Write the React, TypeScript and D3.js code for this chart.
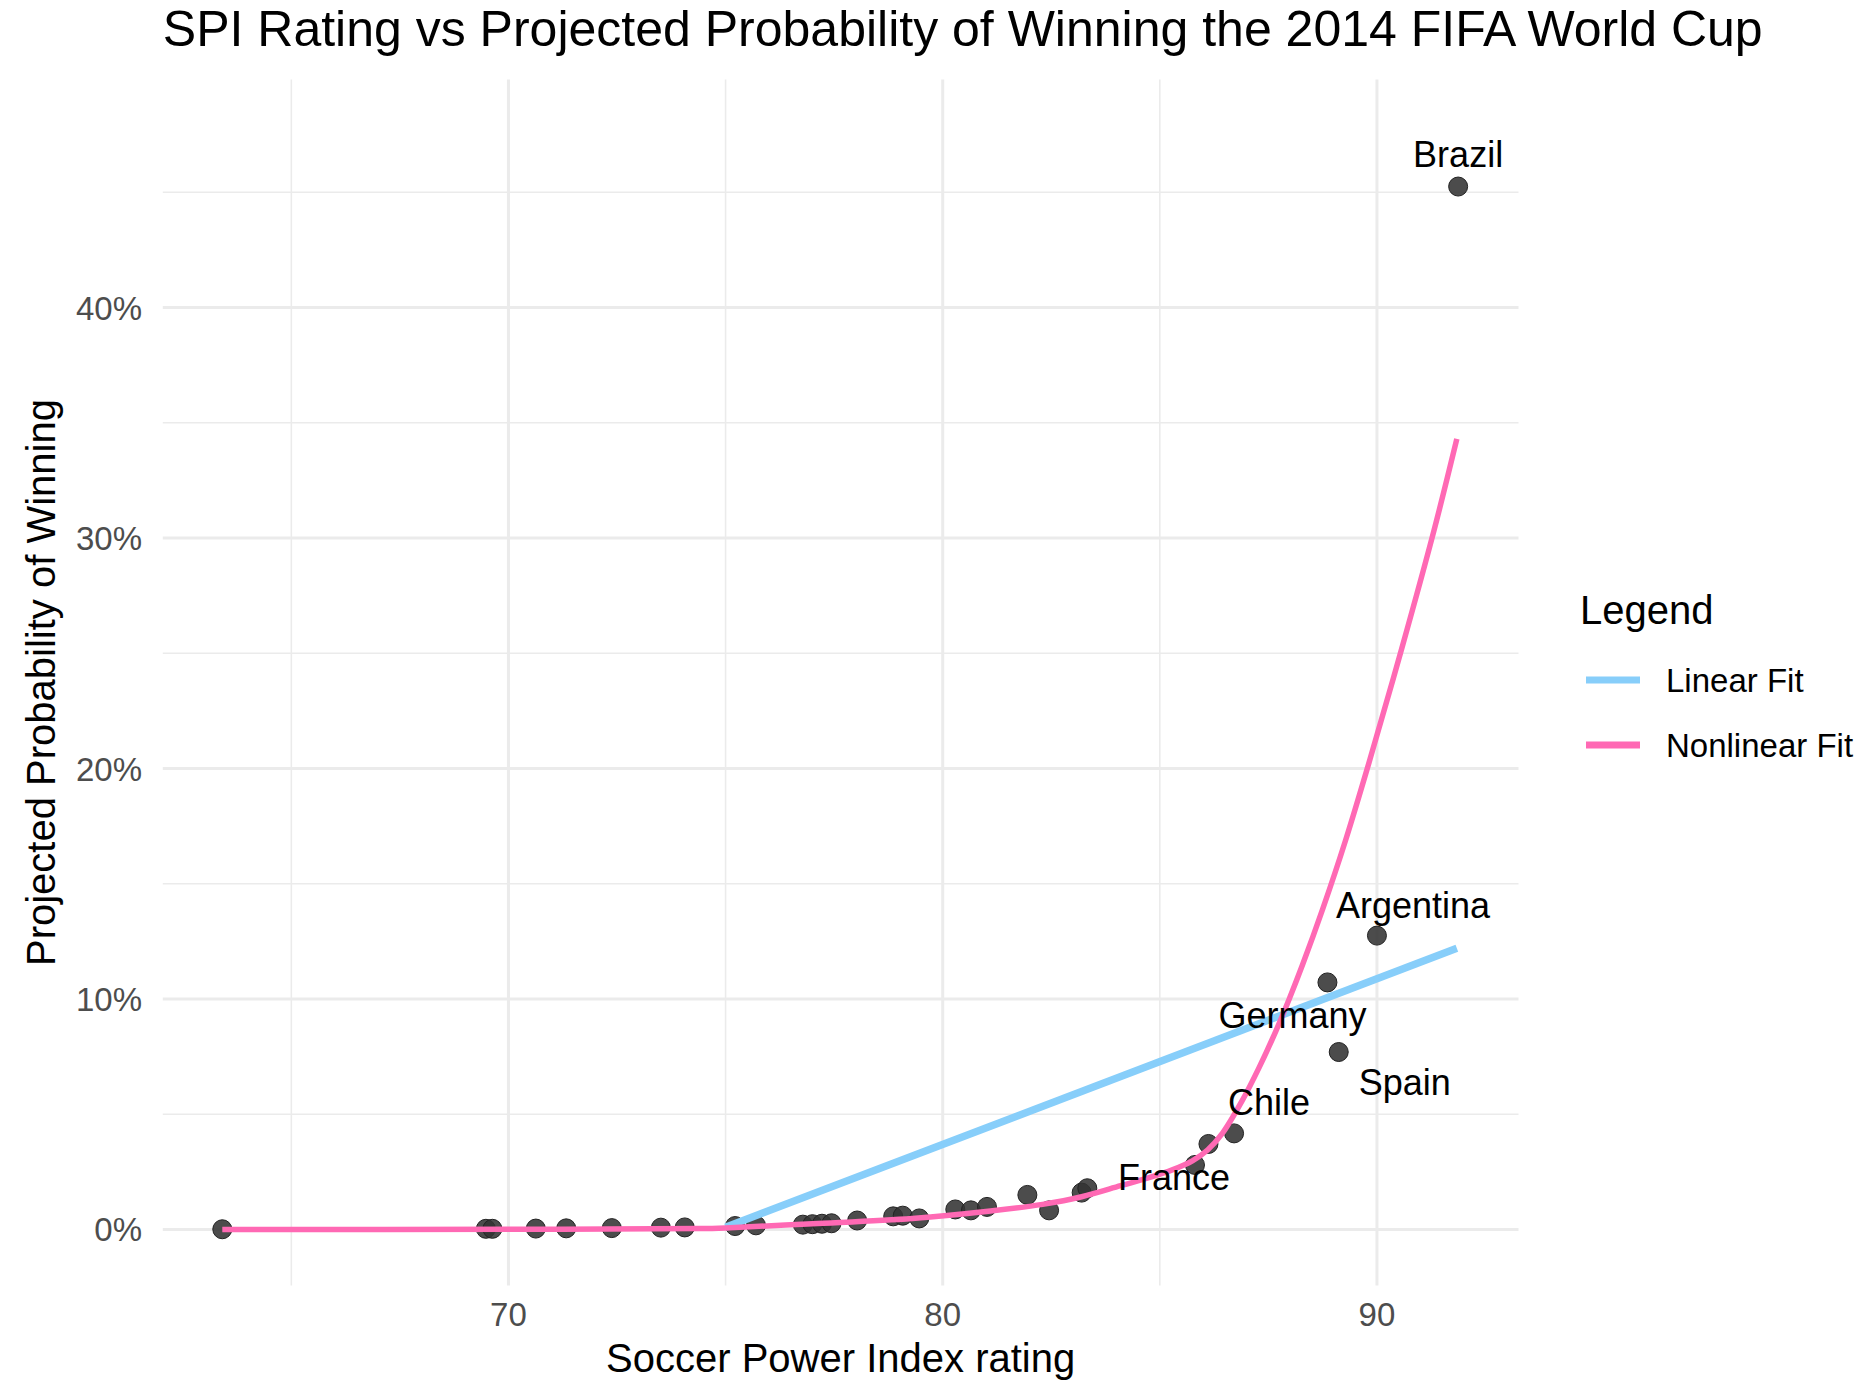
import React, { useEffect, useRef } from 'react';
import * as d3 from 'd3';

// team SPI ratings and projected win probability (%)
const spi = [63.41, 69.48, 69.63, 70.63, 71.33, 72.38, 73.51, 74.06, 75.22, 75.70, 76.78, 77.0, 77.22, 77.44, 78.03, 78.86, 79.08, 79.46, 80.29, 80.65, 81.02, 81.95, 82.45, 83.2, 83.33, 85.81, 86.12, 86.71, 88.86, 89.12, 90.0, 91.87];
const prob = [0.01, 0.03, 0.03, 0.04, 0.05, 0.06, 0.08, 0.09, 0.15, 0.18, 0.21, 0.23, 0.25, 0.27, 0.39, 0.57, 0.6, 0.48, 0.87, 0.83, 0.98, 1.5, 0.83, 1.6, 1.79, 2.8, 3.71, 4.17, 10.72, 7.7, 12.75, 45.25];
const teamNames = ['', '', '', '', '', '', '', '', '', '', '', '', '', '', '', '', '', '', '', '', '', '', '', '', '', 'France', '', 'Chile', 'Germany', 'Spain', 'Argentina', 'Brazil'];

// fitted lines
const linearX = [75.0, 91.84];
const linearY = [0.1, 12.2];
const nonlinearX = [63.41, 70.0, 74.4, 75.0, 77.0, 79.3, 81.1, 82.3, 83.2, 84.1, 84.75, 85.3, 85.75, 86.1, 86.44, 86.9, 87.28, 87.67, 87.98, 88.28, 88.75, 89.28, 89.84, 90.57, 91.31, 91.84];
const nonlinearY = [0.0, 0.01, 0.04, 0.07, 0.25, 0.48, 0.8, 1.09, 1.42, 1.9, 2.25, 2.6, 2.98, 3.45, 4.17, 5.6, 7.0, 8.6, 10.0, 11.45, 13.9, 16.9, 20.4, 25.2, 30.3, 34.3];

const xMajor = [70, 80, 90];
const xMinor = [65, 75, 85];
const yMajor = [0, 10, 20, 30, 40];
const yMinor = [5, 15, 25, 35, 45];

const legendItems = [
  { label: 'Linear Fit', color: '#87CEFA' },
  { label: 'Nonlinear Fit', color: '#FF69B4' },
];

// label nudges in px (dx to centre, dy to baseline)
const labelNudge = {
  Brazil: [0, -20],
  Argentina: [36, -18],
  Germany: [-35, 46],
  Spain: [66, 43],
  Chile: [35, -18],
  France: [-21, 25],
};

const W = 1863;
const H = 1383;
const FONT = '"Liberation Sans", Arial, Helvetica, sans-serif';

const App = () => {
  const svgRef = useRef(null);

  useEffect(() => {
    const svg = d3.select(svgRef.current);
    svg.selectAll('*').remove();

    const left = 162.8, right = 1518.5, top = 79.6, bottom = 1285.5;

    const x = d3.scaleLinear().domain([62.04, 93.26]).range([left, right]);
    const y = d3.scaleLinear().domain([-2.43, 49.89]).range([bottom, top]);

    svg.append('rect').attr('width', W).attr('height', H).attr('fill', '#fff');

    const grid = svg.append('g');
    grid.selectAll('.xminor').data(xMinor).enter().append('line')
      .attr('x1', d => x(d)).attr('x2', d => x(d)).attr('y1', top).attr('y2', bottom)
      .attr('stroke', '#ebebeb').attr('stroke-width', 1.6);
    grid.selectAll('.yminor').data(yMinor).enter().append('line')
      .attr('y1', d => y(d)).attr('y2', d => y(d)).attr('x1', left).attr('x2', right)
      .attr('stroke', '#ebebeb').attr('stroke-width', 1.6);
    grid.selectAll('.xmajor').data(xMajor).enter().append('line')
      .attr('x1', d => x(d)).attr('x2', d => x(d)).attr('y1', top).attr('y2', bottom)
      .attr('stroke', '#ebebeb').attr('stroke-width', 3);
    grid.selectAll('.ymajor').data(yMajor).enter().append('line')
      .attr('y1', d => y(d)).attr('y2', d => y(d)).attr('x1', left).attr('x2', right)
      .attr('stroke', '#ebebeb').attr('stroke-width', 3);

    // tick labels
    svg.append('g').selectAll('text').data(xMajor).enter().append('text')
      .attr('x', d => x(d)).attr('y', 1326)
      .attr('text-anchor', 'middle')
      .style('font-family', FONT).style('font-size', '33px').style('fill', '#4d4d4d')
      .text(d => d);
    svg.append('g').selectAll('text').data(yMajor).enter().append('text')
      .attr('x', 142).attr('y', d => y(d) + 12)
      .attr('text-anchor', 'end')
      .style('font-family', FONT).style('font-size', '33px').style('fill', '#4d4d4d')
      .text(d => d + '%');

    // points
    const pts = spi.map((s, i) => ({ s, p: prob[i], name: teamNames[i] }));
    svg.append('g').selectAll('circle').data(pts).enter().append('circle')
      .attr('cx', d => x(d.s)).attr('cy', d => y(d.p)).attr('r', 9.5)
      .attr('fill', '#333').attr('fill-opacity', 0.88)
      .attr('stroke', '#222').attr('stroke-width', 1);

    // fits
    const linData = linearX.map((v, i) => [v, linearY[i]]);
    const nlData = nonlinearX.map((v, i) => [v, nonlinearY[i]]);
    const line = d3.line().x(d => x(d[0])).y(d => y(d[1]));
    svg.append('path').datum(linData).attr('d', line)
      .attr('fill', 'none').attr('stroke', '#87CEFA').attr('stroke-width', 7.5);
    svg.append('path').datum(nlData).attr('d', line.curve(d3.curveCatmullRom.alpha(0.5)))
      .attr('fill', 'none').attr('stroke', '#FF69B4').attr('stroke-width', 5.5);

    // team labels
    svg.append('g').selectAll('text').data(pts.filter(d => d.name)).enter().append('text')
      .attr('x', d => x(d.s) + labelNudge[d.name][0])
      .attr('y', d => y(d.p) + labelNudge[d.name][1])
      .attr('text-anchor', 'middle')
      .style('font-family', FONT).style('font-size', '36px').style('fill', '#000')
      .text(d => d.name);

    // titles
    svg.append('text')
      .attr('x', left).attr('y', 46)
      .style('font-family', FONT).style('font-size', '50px').style('fill', '#000')
      .text('SPI Rating vs Projected Probability of Winning the 2014 FIFA World Cup');
    svg.append('text')
      .attr('x', (left + right) / 2).attr('y', 1372)
      .attr('text-anchor', 'middle')
      .style('font-family', FONT).style('font-size', '40px').style('fill', '#000')
      .text('Soccer Power Index rating');
    svg.append('text')
      .attr('transform', `translate(55,${(top + bottom) / 2}) rotate(-90)`)
      .attr('text-anchor', 'middle')
      .style('font-family', FONT).style('font-size', '40px').style('fill', '#000')
      .text('Projected Probability of Winning');

    // legend
    const legend = svg.append('g').attr('transform', 'translate(1580,0)');
    legend.append('text')
      .attr('x', 0).attr('y', 624)
      .style('font-family', FONT).style('font-size', '40px').style('fill', '#000')
      .text('Legend');
    const item = legend.selectAll('.item').data(legendItems).enter().append('g')
      .attr('transform', (d, i) => `translate(0,${680 + i * 65})`);
    item.append('line')
      .attr('x1', 6).attr('x2', 60).attr('y1', 0).attr('y2', 0)
      .attr('stroke', d => d.color).attr('stroke-width', 7);
    item.append('text')
      .attr('x', 86).attr('y', 12)
      .style('font-family', FONT).style('font-size', '33px').style('fill', '#000')
      .text(d => d.label);
  }, []);

  return (
    <svg ref={svgRef} width={W} height={H}
      style={{ display: 'block', position: 'absolute', left: 0, top: 0 }}></svg>
  );
};

export default App;
